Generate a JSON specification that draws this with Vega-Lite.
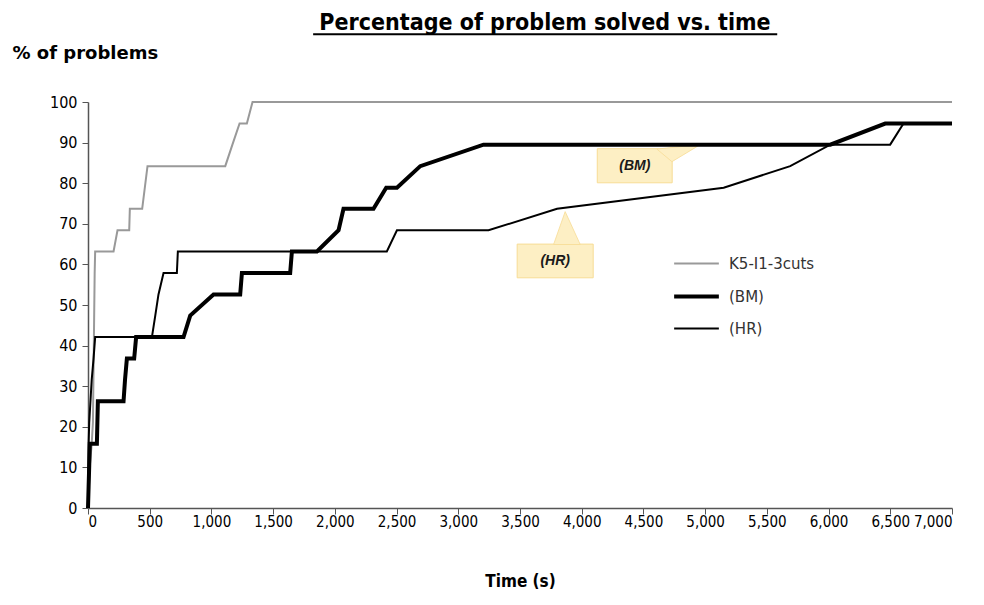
{
  "$schema": "https://vega.github.io/schema/vega-lite/v6.json",
  "width": 864,
  "height": 406,
  "autosize": "none",
  "padding": {"left": 88, "top": 102, "right": 32, "bottom": 97},
  "background": "white",
  "config": {"view": {"stroke": null}},
  "title": {
    "text": "Percentage of problem solved vs. time",
    "font": "DejaVu Sans Condensed, Liberation Sans, sans-serif",
    "fontSize": 23,
    "fontWeight": "bold",
    "color": "#000000",
    "anchor": "middle",
    "dx": 25,
    "offset": -2
  },
  "datasets": {
    "lines": [
      {"series": "K5-I1-3cuts", "t": 0, "pct": 0},
      {"series": "K5-I1-3cuts", "t": 15, "pct": 10.5},
      {"series": "K5-I1-3cuts", "t": 30, "pct": 15.8},
      {"series": "K5-I1-3cuts", "t": 40, "pct": 21.1},
      {"series": "K5-I1-3cuts", "t": 48, "pct": 42.1},
      {"series": "K5-I1-3cuts", "t": 54, "pct": 57.9},
      {"series": "K5-I1-3cuts", "t": 58, "pct": 63.2},
      {"series": "K5-I1-3cuts", "t": 207, "pct": 63.2},
      {"series": "K5-I1-3cuts", "t": 239, "pct": 68.4},
      {"series": "K5-I1-3cuts", "t": 334, "pct": 68.4},
      {"series": "K5-I1-3cuts", "t": 339, "pct": 73.7},
      {"series": "K5-I1-3cuts", "t": 439, "pct": 73.7},
      {"series": "K5-I1-3cuts", "t": 482, "pct": 84.2},
      {"series": "K5-I1-3cuts", "t": 1112, "pct": 84.2},
      {"series": "K5-I1-3cuts", "t": 1170, "pct": 89.5},
      {"series": "K5-I1-3cuts", "t": 1228, "pct": 94.7},
      {"series": "K5-I1-3cuts", "t": 1287, "pct": 94.7},
      {"series": "K5-I1-3cuts", "t": 1333, "pct": 100},
      {"series": "K5-I1-3cuts", "t": 7000, "pct": 100},
      {"series": "(BM)", "t": 0, "pct": 0},
      {"series": "(BM)", "t": 5, "pct": 5.3},
      {"series": "(BM)", "t": 10, "pct": 10.5},
      {"series": "(BM)", "t": 15, "pct": 15.8},
      {"series": "(BM)", "t": 72, "pct": 15.8},
      {"series": "(BM)", "t": 80, "pct": 26.3},
      {"series": "(BM)", "t": 288, "pct": 26.3},
      {"series": "(BM)", "t": 300, "pct": 31.6},
      {"series": "(BM)", "t": 315, "pct": 36.8},
      {"series": "(BM)", "t": 374, "pct": 36.8},
      {"series": "(BM)", "t": 390, "pct": 42.1},
      {"series": "(BM)", "t": 774, "pct": 42.1},
      {"series": "(BM)", "t": 828, "pct": 47.4},
      {"series": "(BM)", "t": 1017, "pct": 52.6},
      {"series": "(BM)", "t": 1233, "pct": 52.6},
      {"series": "(BM)", "t": 1247, "pct": 57.9},
      {"series": "(BM)", "t": 1638, "pct": 57.9},
      {"series": "(BM)", "t": 1652, "pct": 63.2},
      {"series": "(BM)", "t": 1855, "pct": 63.2},
      {"series": "(BM)", "t": 2030, "pct": 68.4},
      {"series": "(BM)", "t": 2070, "pct": 73.7},
      {"series": "(BM)", "t": 2313, "pct": 73.7},
      {"series": "(BM)", "t": 2416, "pct": 78.9},
      {"series": "(BM)", "t": 2503, "pct": 78.9},
      {"series": "(BM)", "t": 2692, "pct": 84.2},
      {"series": "(BM)", "t": 3204, "pct": 89.5},
      {"series": "(BM)", "t": 6014, "pct": 89.5},
      {"series": "(BM)", "t": 6459, "pct": 94.7},
      {"series": "(BM)", "t": 7000, "pct": 94.7},
      {"series": "(HR)", "t": 0, "pct": 0},
      {"series": "(HR)", "t": 5, "pct": 15.8},
      {"series": "(HR)", "t": 10, "pct": 21.1},
      {"series": "(HR)", "t": 30, "pct": 31.6},
      {"series": "(HR)", "t": 45, "pct": 36.8},
      {"series": "(HR)", "t": 58, "pct": 42.1},
      {"series": "(HR)", "t": 518, "pct": 42.1},
      {"series": "(HR)", "t": 545, "pct": 47.4},
      {"series": "(HR)", "t": 571, "pct": 52.6},
      {"series": "(HR)", "t": 612, "pct": 57.9},
      {"series": "(HR)", "t": 720, "pct": 57.9},
      {"series": "(HR)", "t": 728, "pct": 63.2},
      {"series": "(HR)", "t": 2421, "pct": 63.2},
      {"series": "(HR)", "t": 2503, "pct": 68.4},
      {"series": "(HR)", "t": 3245, "pct": 68.4},
      {"series": "(HR)", "t": 3800, "pct": 73.7},
      {"series": "(HR)", "t": 5150, "pct": 78.9},
      {"series": "(HR)", "t": 5689, "pct": 84.2},
      {"series": "(HR)", "t": 6014, "pct": 89.5},
      {"series": "(HR)", "t": 6499, "pct": 89.5},
      {"series": "(HR)", "t": 6607, "pct": 94.7},
      {"series": "(HR)", "t": 7000, "pct": 94.7}
    ],
    "boxes": [
      {"label": "(BM)", "t0": 4126, "t1": 4733, "p0": 80.1, "p1": 88.5, "tc": 4430, "pc": 84.3},
      {"label": "(HR)", "t0": 3477, "t1": 4093, "p0": 56.7, "p1": 65.0, "tc": 3785, "pc": 60.9}
    ],
    "bmPointer": [
      {"t": 4609, "lo": 88.4, "hi": 88.4},
      {"t": 4731, "lo": 85.3, "hi": 88.8},
      {"t": 4960, "lo": 89.5, "hi": 89.5}
    ],
    "hrPointer": [
      {"p": 64.9, "lo": 3772, "hi": 3988},
      {"p": 73.0, "lo": 3866, "hi": 3866}
    ],
    "underline": [
      {"t0": 1824, "t1": 5584, "p": 116.7}
    ]
  },
  "layer": [
    {
      "data": {"name": "boxes"},
      "mark": {"type": "rect", "fill": "#FDEFC4", "stroke": "#F7DC95", "strokeWidth": 1},
      "encoding": {
        "x": {"field": "t0", "type": "quantitative", "scale": {"domain": [0, 7000], "nice": false}},
        "x2": {"field": "t1"},
        "y": {"field": "p0", "type": "quantitative", "scale": {"domain": [0, 100], "nice": false}},
        "y2": {"field": "p1"}
      }
    },
    {
      "data": {"name": "bmPointer"},
      "mark": {"type": "area", "fill": "#FDEFC4", "stroke": "#F7DC95", "strokeWidth": 0.8, "orient": "vertical"},
      "encoding": {
        "x": {"field": "t", "type": "quantitative"},
        "y": {"field": "hi", "type": "quantitative"},
        "y2": {"field": "lo"}
      }
    },
    {
      "data": {"name": "hrPointer"},
      "mark": {"type": "area", "fill": "#FDEFC4", "stroke": "#F7DC95", "strokeWidth": 0.8, "orient": "horizontal"},
      "encoding": {
        "y": {"field": "p", "type": "quantitative"},
        "x": {"field": "lo", "type": "quantitative"},
        "x2": {"field": "hi"}
      }
    },
    {
      "data": {"name": "boxes"},
      "mark": {"type": "text", "font": "Liberation Sans, sans-serif", "fontSize": 14, "fontWeight": "bold", "fontStyle": "italic", "color": "#1a1a1a", "align": "center", "baseline": "middle"},
      "encoding": {
        "x": {"field": "tc", "type": "quantitative"},
        "y": {"field": "pc", "type": "quantitative"},
        "text": {"field": "label"}
      }
    },
    {
      "data": {"name": "underline"},
      "mark": {"type": "rule", "color": "#000000", "strokeWidth": 2, "clip": false},
      "encoding": {
        "x": {"field": "t0", "type": "quantitative"},
        "x2": {"field": "t1"},
        "y": {"field": "p", "type": "quantitative"}
      }
    },
    {
      "data": {"name": "lines"},
      "mark": {"type": "line", "interpolate": "linear", "strokeJoin": "miter"},
      "encoding": {
        "x": {
          "field": "t", "type": "quantitative",
          "scale": {"domain": [0, 7000], "nice": false},
          "axis": {
            "values": [0, 500, 1000, 1500, 2000, 2500, 3000, 3500, 4000, 4500, 5000, 5500, 6000, 6500, 7000],
            "format": ",d",
            "grid": false,
            "labelOverlap": false,
            "labelBound": false,
            "domainColor": "#555555",
            "domainWidth": 1.5,
            "tickColor": "#555555",
            "tickSize": 6,
            "labelFont": "DejaVu Sans Condensed, Liberation Sans, sans-serif",
            "labelFontSize": 15,
            "labelColor": "#000000",
            "labelPadding": 0,
            "title": "Time (s)",
            "titleFont": "DejaVu Sans Condensed, Liberation Sans, sans-serif",
            "titleFontSize": 17,
            "titleFontWeight": "bold",
            "titleColor": "#000000",
            "titlePadding": 44
          }
        },
        "y": {
          "field": "pct", "type": "quantitative",
          "scale": {"domain": [0, 100], "nice": false},
          "axis": {
            "values": [0, 10, 20, 30, 40, 50, 60, 70, 80, 90, 100],
            "grid": false,
            "domainColor": "#555555",
            "domainWidth": 1.5,
            "tickColor": "#555555",
            "tickSize": 6,
            "labelFont": "DejaVu Sans Condensed, Liberation Sans, sans-serif",
            "labelFontSize": 16,
            "labelColor": "#000000",
            "labelPadding": 5,
            "title": "% of problems",
            "titleFont": "DejaVu Sans, sans-serif",
            "titleFontSize": 18,
            "titleFontWeight": "bold",
            "titleColor": "#000000",
            "titleAngle": 0,
            "titleAlign": "left",
            "titleBaseline": "middle",
            "titleX": -76,
            "titleY": -49
          }
        },
        "color": {
          "field": "series", "type": "nominal",
          "scale": {"domain": ["K5-I1-3cuts", "(BM)", "(HR)"], "range": ["#999999", "#000000", "#000000"]},
          "legend": {
            "title": null,
            "orient": "none",
            "legendX": 584,
            "legendY": 138,
            "symbolType": "stroke",
            "symbolSize": 2000,
            "labelFont": "DejaVu Sans, sans-serif",
            "labelFontSize": 15,
            "labelColor": "#333333",
            "labelOffset": 8,
            "rowPadding": -11
          }
        },
        "strokeWidth": {
          "field": "series", "type": "nominal",
          "scale": {"type": "ordinal", "domain": ["K5-I1-3cuts", "(BM)", "(HR)"], "range": [2, 4, 2]},
          "legend": {
            "title": null,
            "orient": "none",
            "legendX": 584,
            "legendY": 138,
            "symbolType": "stroke",
            "symbolSize": 2000,
            "labelFont": "DejaVu Sans, sans-serif",
            "labelFontSize": 15,
            "labelColor": "#333333",
            "labelOffset": 8,
            "rowPadding": -11
          }
        }
      }
    }
  ]
}
